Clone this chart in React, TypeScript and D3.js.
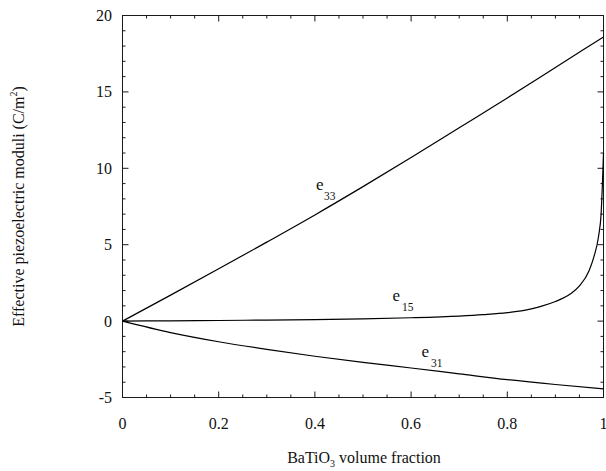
import React from "react";
import * as d3 from "d3";

const xE33 = [0, 0.1, 0.2, 0.3, 0.4, 0.5, 0.6, 0.7, 0.8, 0.9, 1.0];
const yE33 = [0, 1.7, 3.42, 5.17, 6.95, 8.8, 10.7, 12.65, 14.6, 16.6, 18.6];

const xE31 = [0, 0.1, 0.2, 0.3, 0.4, 0.5, 0.6, 0.7, 0.8, 0.9, 1.0];
const yE31 = [0, -0.75, -1.35, -1.85, -2.3, -2.7, -3.07, -3.45, -3.83, -4.15, -4.43];

const xE15 = [0, 0.1, 0.2, 0.3, 0.4, 0.5, 0.6, 0.7, 0.75, 0.8, 0.85, 0.87, 0.9, 0.93, 0.95, 0.97, 0.98, 0.99, 0.995, 1.0];
const yE15 = [0, 0.02, 0.04, 0.07, 0.1, 0.15, 0.22, 0.33, 0.42, 0.55, 0.8, 0.96, 1.28, 1.75, 2.3, 3.3, 4.2, 5.6, 7.0, 11.0];

const xMajorTicks = [0, 0.2, 0.4, 0.6, 0.8, 1];
const xTickLabels = ["0", "0.2", "0.4", "0.6", "0.8", "1"];
const yMajorTicks = [-5, 0, 5, 10, 15, 20];
const yTickLabels = ["-5", "0", "5", "10", "15", "20"];

const W = 606, H = 471;
const L = 122.5, R = 603.5, T = 15.5, B = 397.5;

export default function App() {
  const x = d3.scaleLinear().domain([0, 1]).range([L, R]);
  const y = d3.scaleLinear().domain([-5, 20]).range([B, T]);
  const line = d3.line<[number, number]>().x(d => x(d[0])).y(d => y(d[1])).curve(d3.curveMonotoneX);
  const mk = (xs: number[], ys: number[]) => xs.map((v, i) => [v, ys[i]] as [number, number]);

  const xMinor = d3.range(0, 1.0001, 0.05).filter(v => Math.abs(v * 5 - Math.round(v * 5)) > 1e-6);
  const yMinor = d3.range(-5, 20.0001, 1).filter(v => v % 5 !== 0);
  const font = "'Liberation Serif', 'Times New Roman', serif";
  const stroke = "#1a1a1a";

  return (
    <svg width={W} height={H} style={{ position: "absolute", left: 0, top: 0, background: "#fff" }} fontFamily={font}>
      <rect x={L} y={T} width={R - L} height={B - T} fill="none" stroke={stroke} strokeWidth={1} />
      {xMajorTicks.map((v, i) => (
        <g key={"xm" + i}>
          <line x1={x(v)} x2={x(v)} y1={B} y2={B - 6} stroke={stroke} />
          <line x1={x(v)} x2={x(v)} y1={T} y2={T + 6} stroke={stroke} />
          <text x={x(v)} y={429} fontSize={16} textAnchor="middle" fill="#111">{xTickLabels[i]}</text>
        </g>
      ))}
      {xMinor.map((v, i) => (
        <g key={"xn" + i}>
          <line x1={x(v)} x2={x(v)} y1={B} y2={B - 3} stroke={stroke} />
          <line x1={x(v)} x2={x(v)} y1={T} y2={T + 3} stroke={stroke} />
        </g>
      ))}
      {yMajorTicks.map((v, i) => (
        <g key={"ym" + i}>
          <line x1={L} x2={L + 6} y1={y(v)} y2={y(v)} stroke={stroke} />
          <line x1={R} x2={R - 6} y1={y(v)} y2={y(v)} stroke={stroke} />
          <text x={112} y={y(v) + 5.5} fontSize={16} textAnchor="end" fill="#111">{yTickLabels[i]}</text>
        </g>
      ))}
      {yMinor.map((v, i) => (
        <g key={"yn" + i}>
          <line x1={L} x2={L + 3} y1={y(v)} y2={y(v)} stroke={stroke} />
          <line x1={R} x2={R - 3} y1={y(v)} y2={y(v)} stroke={stroke} />
        </g>
      ))}
      <path d={line(mk(xE33, yE33)) || ""} fill="none" stroke="#000" strokeWidth={1.2} />
      <path d={line(mk(xE15, yE15)) || ""} fill="none" stroke="#000" strokeWidth={1.2} />
      <path d={line(mk(xE31, yE31)) || ""} fill="none" stroke="#000" strokeWidth={1.2} />

      <text x={316} y={190} fontSize={17} fill="#111">e</text>
      <text x={324} y={200} fontSize={11.5} fill="#111">33</text>
      <text x={392.5} y={301} fontSize={17} fill="#111">e</text>
      <text x={402} y={311} fontSize={11.5} fill="#111">15</text>
      <text x={421.5} y={357} fontSize={17} fill="#111">e</text>
      <text x={431} y={367} fontSize={11.5} fill="#111">31</text>

      <text x={364} y={463} fontSize={16} textAnchor="middle" fill="#111">
        BaTiO<tspan fontSize={10} dy={4}>3</tspan><tspan dy={-4}> volume fraction</tspan>
      </text>
      <text transform={`translate(24, ${(T + B) / 2}) rotate(-90)`} fontSize={16} textAnchor="middle" fill="#111">
        Effective piezoelectric moduli (C/m<tspan fontSize={10} dy={-7}>2</tspan><tspan dy={7}>)</tspan>
      </text>
    </svg>
  );
}
